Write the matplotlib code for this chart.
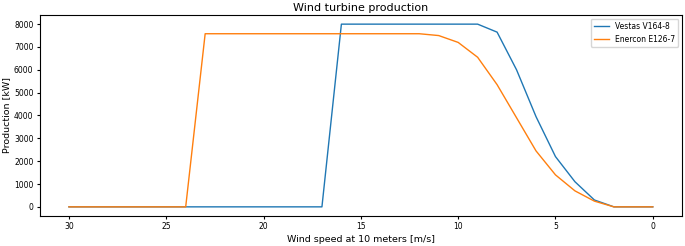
import numpy as np
import matplotlib
matplotlib.use("Agg")
import matplotlib.pyplot as plt

wind_speed = list(range(0, 31))

vestas_v164 = [0, 0, 0, 300, 1100, 2200, 3950, 6000, 7650, 8000,
               8000, 8000, 8000, 8000, 8000, 8000, 8000, 0, 0, 0,
               0, 0, 0, 0, 0, 0, 0, 0, 0, 0, 0]
enercon_e126 = [0, 0, 0, 250, 700, 1400, 2450, 3900, 5350, 6550,
                7200, 7500, 7580, 7580, 7580, 7580, 7580, 7580, 7580, 7580,
                7580, 7580, 7580, 7580, 0, 0, 0, 0, 0, 0, 0]

fig, ax = plt.subplots(figsize=(6.85, 2.46), dpi=100)
fig.subplots_adjust(left=0.058, right=0.9956, top=0.939, bottom=0.122)

ax.plot(wind_speed, vestas_v164, label='Vestas V164-8', linewidth=1.0)
ax.plot(wind_speed, enercon_e126, label='Enercon E126-7', linewidth=1.0)
ax.invert_xaxis()

ax.set_title('Wind turbine production', fontsize=8, pad=3)
ax.set_xlabel('Wind speed at 10 meters [m/s]', fontsize=6.8, labelpad=3)
ax.set_ylabel('Production [kW]', fontsize=6.8, labelpad=2)
ax.tick_params(labelsize=5.5, length=2.5, pad=2)
ax.legend(fontsize=5.5, loc='upper right')

plt.savefig('out.png', dpi=100)
